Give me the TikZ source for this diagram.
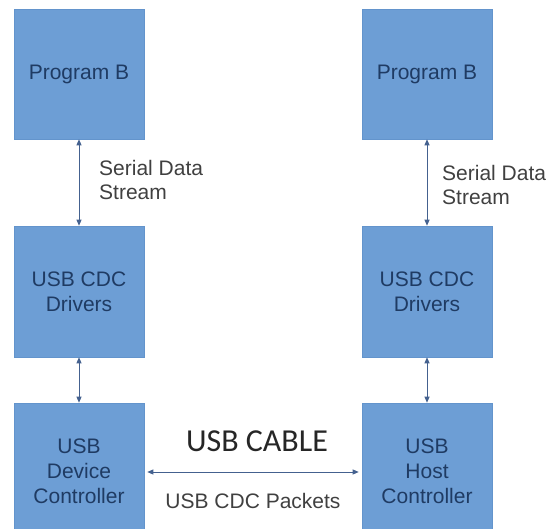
\documentclass[tikz,border=0pt]{standalone}
\usepackage{fontspec}
\setmainfont{Liberation Sans}
\newfontfamily\cablefont{Carlito}
\usetikzlibrary{arrows.meta}
\definecolor{boxfill}{HTML}{6D9ED5}
\definecolor{boxedge}{HTML}{6394CC}
\definecolor{boxtext}{HTML}{1F3B63}
\definecolor{linkcol}{HTML}{44618F}
\definecolor{labelcol}{HTML}{404040}
\begin{document}
\begin{tikzpicture}[x=1pt,y=-1pt,
  block/.style={draw=boxedge,line width=0.6pt,fill=boxfill,text=boxtext,
    minimum width=130pt,align=center,inner sep=0pt,
    font=\fontsize{21}{25}\selectfont},
  link/.style={draw=linkcol,line width=0.9pt,
    {Triangle[length=6pt,width=5pt]}-{Triangle[length=6pt,width=5pt]}},
  lbl/.style={text=labelcol,align=left,inner sep=0pt,
    font=\fontsize{21}{24}\selectfont}]
\useasboundingbox (0,0) rectangle (549,529);
\clip (0,0) rectangle (549,529);

% left stack
\node[block,minimum height=130pt] (L1) at (79,74) {Program B};
\node[block,minimum height=131pt] (L2) at (79,291.5) {USB CDC\\Drivers};
\node[block,minimum height=136pt] (L3) at (79,471) {USB\\Device\\Controller};

% right stack
\node[block,minimum height=130pt] (R1) at (427,74) {Program B};
\node[block,minimum height=131pt] (R2) at (427,291.5) {USB CDC\\Drivers};
\node[block,minimum height=136pt] (R3) at (427,471) {USB\\Host\\Controller};

% vertical links
\draw[link] (L1.south) -- (L2.north);
\draw[link] (L2.south) -- (L3.north);
\draw[link] (R1.south) -- (R2.north);
\draw[link] (R2.south) -- (R3.north);

% cable link
\coordinate (cab) at (253,472);
\draw[link,shorten <=3pt,shorten >=3pt] (L3.east |- cab) -- (R3.west |- cab);

% labels
\node[lbl,anchor=west] (sl) at (99,180) {Serial Data\\Stream};
\node[lbl,anchor=west] (sr) at (442,185) {Serial Data\\Stream};
\node[text=black!85,inner sep=0pt,font=\cablefont\fontsize{32}{36}\selectfont] (cable) at (257,441) {USB CABLE};
\node[lbl] (pk) at (253,501) {USB CDC Packets};
\end{tikzpicture}
\end{document}
